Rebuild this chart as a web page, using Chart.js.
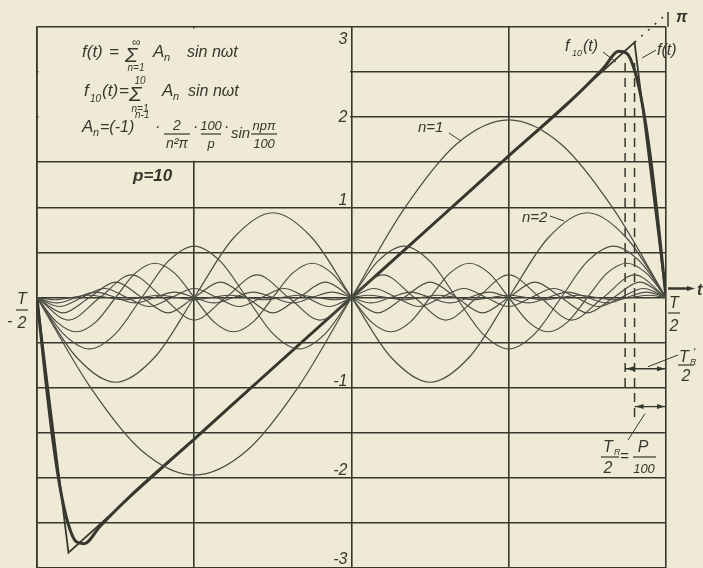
<!DOCTYPE html>
<html>
<head>
<meta charset="utf-8">
<script src="https://cdn.jsdelivr.net/npm/chart.js@4/dist/chart.umd.min.js"></script>
<style>
  html, body { margin: 0; padding: 0; background: #eeead6; }
  canvas { display: block; }
</style>
</head>
<body>
<canvas id="chart" width="703" height="568"></canvas>
<script>
// values: t runs from -T/2 (-1) to T/2 (1), y in radians
// harmonics are sampled evenly from -T/2 to T/2
const harmonic1 = [0, -0.98, -1.70, -1.97, -1.70, -0.98, 0, 0.98, 1.70, 1.97, 1.70, 0.98, 0];
const harmonic2 = [0, -0.66, -0.94, -0.66, 0, 0.66, 0.94, 0.66, 0, -0.66, -0.94, -0.66, 0, 0.66, 0.94, 0.66, 0];
const harmonic3 = [0, -0.40, -0.57, -0.40, 0, 0.40, 0.57, 0.40, 0, -0.40, -0.57, -0.40, 0,
                   0.40, 0.57, 0.40, 0, -0.40, -0.57, -0.40, 0, 0.40, 0.57, 0.40, 0];
const harmonic4 = [0, -0.27, -0.38, -0.27, 0, 0.27, 0.38, 0.27, 0, -0.27, -0.38, -0.27, 0, 0.27, 0.38, 0.27,
                   0, -0.27, -0.38, -0.27, 0, 0.27, 0.38, 0.27, 0, -0.27, -0.38, -0.27, 0, 0.27, 0.38, 0.27, 0];
const harmonic5 = [0, -0.25, 0, 0.25, 0, -0.25, 0, 0.25, 0, -0.25, 0, 0.25, 0, -0.25, 0, 0.25, 0, -0.25, 0, 0.25, 0];
const harmonic6 = [0, -0.17, 0, 0.17, 0, -0.17, 0, 0.17, 0, -0.17, 0, 0.17, 0,
                   -0.17, 0, 0.17, 0, -0.17, 0, 0.17, 0, -0.17, 0, 0.17, 0];
const harmonic7 = [0, -0.10, 0, 0.10, 0, -0.10, 0, 0.10, 0, -0.10, 0, 0.10, 0, -0.10, 0,
                   0.10, 0, -0.10, 0, 0.10, 0, -0.10, 0, 0.10, 0, -0.10, 0, 0.10, 0];
const harmonic8 = [0, -0.06, 0, 0.06, 0, -0.06, 0, 0.06, 0, -0.06, 0, 0.06, 0, -0.06, 0, 0.06, 0,
                   -0.06, 0, 0.06, 0, -0.06, 0, 0.06, 0, -0.06, 0, 0.06, 0, -0.06, 0, 0.06, 0];
const harmonic9 = [0, -0.025, 0, 0.025, 0, -0.025, 0, 0.025, 0, -0.025, 0, 0.025, 0, -0.025, 0, 0.025, 0, -0.025, 0,
                   0.025, 0, -0.025, 0, 0.025, 0, -0.025, 0, 0.025, 0, -0.025, 0, 0.025, 0, -0.025, 0, 0.025, 0];

// f(t): the clipped sawtooth
const sawTimes = [-1, -0.9, 0.9, 1];
const sawValues = [0, -2.83, 2.83, 0];

// f10(t): the partial sum of ten terms
const sumTimes = [-1, -0.975, -0.95, -0.925, -0.9, -0.875, -0.85, -0.8, -0.7, -0.5, -0.3, 0,
                  0.3, 0.5, 0.7, 0.8, 0.85, 0.875, 0.9, 0.925, 0.95, 0.975, 1];
const sumValues = [0, -0.83, -1.57, -2.14, -2.52, -2.71, -2.73, -2.54, -2.19, -1.57, -0.94, 0,
                   0.94, 1.57, 2.19, 2.54, 2.73, 2.71, 2.52, 2.14, 1.57, 0.83, 0];

// dotted continuation up to pi
const piTimes = [0.9, 1];
const piValues = [2.83, 3.14];

// dashed construction lines T_R'/2 and T_R/2
const cutTimes = [0.87, 0.9];
const cutTops = [2.6, 2.6];
const cutBottoms = [-1.03, -1.36];
const spanLevels = [-0.79, -1.21];

const tickValues = [3, 2, 1, -1, -2, -3];

const ink = '#36382e';
const thin = '#4b4d42';
const paper = '#eeead6';
const face = "'Liberation Sans', 'DejaVu Sans', sans-serif";

const harmonics = [harmonic1, harmonic2, harmonic3, harmonic4, harmonic5, harmonic6, harmonic7, harmonic8, harmonic9];

function evenSpread(values) {
    const last = values.length - 1;
    return values.map((v, i) => ({ x: -1 + 2 * i / last, y: v }));
}

function paired(times, values) {
    return times.map((t, i) => ({ x: t, y: values[i] }));
}

const datasets = harmonics.map((h, i) => ({
    label: 'n=' + (i + 1),
    data: evenSpread(h),
    borderColor: thin,
    borderWidth: 1.2,
    cubicInterpolationMode: 'monotone'
}));

datasets.push({ label: 'f10(t)', data: paired(sumTimes, sumValues), borderColor: ink, borderWidth: 3, cubicInterpolationMode: 'monotone' });
datasets.push({ label: 'f(t)', data: paired(sawTimes, sawValues), borderColor: ink, borderWidth: 1.8 });
datasets.push({ label: 'pi', data: paired(piTimes, piValues), borderColor: ink, borderWidth: 1.5, borderDash: [2, 7], clip: false });
cutTimes.forEach((t, i) => {
    datasets.push({ label: 'cut' + i, data: paired([t, t], [cutTops[i], cutBottoms[i]]), borderColor: ink, borderWidth: 1.5, borderDash: [9, 6] });
});

datasets.forEach(d => { d.showLine = true; d.pointRadius = 0; d.fill = false; });

// text and construction marks drawn on top of the plot
const plate = {
    id: 'plate',
    beforeDatasetsDraw(chart) {
        const { ctx, scales: { x, y } } = chart;
        // the formula panel carries no ruling
        const l = x.getPixelForValue(-1) + 1.5, r = x.getPixelForValue(0) - 1.5;
        const t = y.getPixelForValue(3) + 1.5, b = y.getPixelForValue(1.5) - 1.5;
        ctx.save();
        ctx.fillStyle = paper;
        ctx.fillRect(l, t, r - l, b - t);
        ctx.restore();
    },
    afterDraw(chart) {
        const { ctx, scales: { x, y } } = chart;
        const X = v => x.getPixelForValue(v);
        const Y = v => y.getPixelForValue(v);
        ctx.save();
        ctx.fillStyle = ink;
        ctx.strokeStyle = ink;
        ctx.textBaseline = 'alphabetic';

        function write(s, px, py, size, align, bold) {
            ctx.font = 'italic ' + (bold ? 'bold ' : '') + size + 'px ' + face;
            ctx.textAlign = align || 'left';
            ctx.fillText(s, px, py);
        }
        function line(x1, y1, x2, y2, w) {
            ctx.lineWidth = w || 1;
            ctx.beginPath();
            ctx.moveTo(x1, y1);
            ctx.lineTo(x2, y2);
            ctx.stroke();
        }
        function frac(top, bottom, cx, ly, half, size) {
            write(top, cx, ly - 4, size, 'center');
            line(cx - half, ly, cx + half, ly, 1.2);
            write(bottom, cx, ly + 14, size, 'center');
        }
        function head(px, py, dir) {
            ctx.beginPath();
            ctx.moveTo(px, py);
            ctx.lineTo(px - dir * 8, py - 2.5);
            ctx.lineTo(px - dir * 8, py + 2.5);
            ctx.closePath();
            ctx.fill();
        }

        // formulas
        write('f(t)', 82, 57, 17);
        write('=', 109, 57, 17);
        write('\u03a3', 125, 62, 21);
        write('\u221e', 136, 46, 12, 'center');
        write('n=1', 136, 71, 10, 'center');
        write('A', 153, 57, 17);
        write('n', 164, 61, 11);
        write('sin n\u03c9t', 187, 57, 16);

        write('f', 84, 96, 17);
        write('10', 90, 102, 10);
        write('(t)', 102, 96, 17);
        write('=', 119, 96, 17);
        write('\u03a3', 129, 101, 21);
        write('10', 140, 84, 10, 'center');
        write('n=1', 140, 112, 10, 'center');
        write('A', 162, 96, 17);
        write('n', 173, 100, 11);
        write('sin n\u03c9t', 188, 96, 16);

        write('A', 82, 132, 17);
        write('n', 93, 136, 11);
        write('=(-1)', 100, 132, 16);
        write('n-1', 135, 118, 10);
        write('\u00b7', 155, 132, 16);
        frac('2', 'n\u00b2\u03c0', 177, 134, 13, 14);
        write('\u00b7', 193, 132, 16);
        frac('100', 'p', 211, 134, 10, 13);
        write('\u00b7', 224, 132, 16);
        write('sin', 231, 138, 15);
        frac('np\u03c0', '100', 264, 134, 13, 13);

        write('p=10', 133, 181, 17, 'left', true);

        // axis numbers beside the t = 0 line
        const offsets = { '3': 17, '2': 5, '1': -2, '-1': -2, '-2': -3, '-3': -4 };
        tickValues.forEach(v => {
            write(String(v), X(0) - 4, Y(v) + offsets[String(v)], 16, 'right');
        });

        // -T/2 and T/2
        const l0 = X(-1) - 15;
        write('T', l0, 304, 16, 'center');
        line(l0 - 6, 310, l0 + 6, 310, 1.2);
        write('2', l0, 328, 16, 'center');
        write('-', 7, 326, 16);
        const r0 = X(1) + 8;
        write('T', r0, 308, 16, 'center');
        line(r0 - 6, 313, r0 + 6, 313, 1.2);
        write('2', r0, 331, 16, 'center');

        // t arrow
        line(X(1) + 2, Y(0) - 9, 690, Y(0) - 9, 2.5);
        head(695, Y(0) - 9, 1);
        write('t', 697, Y(0) - 3, 16, 'left', true);

        // pi mark
        line(X(1) + 2, Y(3) - 15, X(1) + 2, Y(3), 1.5);
        write('\u03c0', 676, 22, 16, 'left', true);

        // curve labels
        write('f', 565, 51, 16);
        write('10', 572, 56, 9);
        write('(t)', 583, 51, 16);
        line(603, 52, 616, 62, 1);
        write('f(t)', 657, 55, 16);
        line(656, 50, 642, 58, 1);
        write('n=1', 418, 132, 15);
        line(449, 133, 461, 141, 1);
        write('n=2', 522, 222, 15);
        line(550, 216, 564, 221, 1);

        // dimension lines
        const a1 = Y(spanLevels[0]), a2 = Y(spanLevels[1]);
        line(X(cutTimes[0]), a1, X(1), a1, 1.3);
        head(X(cutTimes[0]) + 1, a1, -1);
        head(X(1) - 1, a1, 1);
        line(X(cutTimes[1]), a2, X(1), a2, 1.3);
        head(X(cutTimes[1]) + 1, a2, -1);
        head(X(1) - 1, a2, 1);

        line(648, a1 - 2, 678, 355, 1);
        write('T', 684, 362, 16, 'center');
        write('R', 690, 365, 9);
        write("'", 693, 356, 11);
        line(678, 365, 694, 365, 1.2);
        write('2', 686, 381, 16, 'center');

        line(645, a2 + 7, 628, 440, 1);
        write('T', 608, 452, 16, 'center');
        write('R', 614, 455, 9);
        line(601, 457, 619, 457, 1.2);
        write('2', 608, 473, 16, 'center');
        write('=', 620, 461, 15);
        write('P', 643, 452, 16, 'center');
        line(633, 457, 656, 457, 1.2);
        write('100', 644, 473, 13, 'center');

        ctx.restore();
    }
};

new Chart(document.getElementById('chart'), {
    type: 'scatter',
    data: { datasets: datasets },
    options: {
        responsive: false,
        animation: false,
        devicePixelRatio: 1,
        layout: { padding: { left: 37, right: 37, top: 27, bottom: 0 } },
        plugins: { legend: { display: false }, tooltip: { enabled: false } },
        scales: {
            x: {
                type: 'linear', min: -1, max: 1,
                ticks: { display: false, stepSize: 0.5 },
                grid: { color: ink, lineWidth: 1.6, drawTicks: false },
                border: { color: ink, width: 1.6 }
            },
            y: {
                type: 'linear', min: -3, max: 3,
                ticks: { display: false, stepSize: 0.5 },
                grid: { color: ink, lineWidth: 1.6, drawTicks: false },
                border: { color: ink, width: 1.6 }
            }
        }
    },
    plugins: [plate]
});
</script>
</body>
</html>
